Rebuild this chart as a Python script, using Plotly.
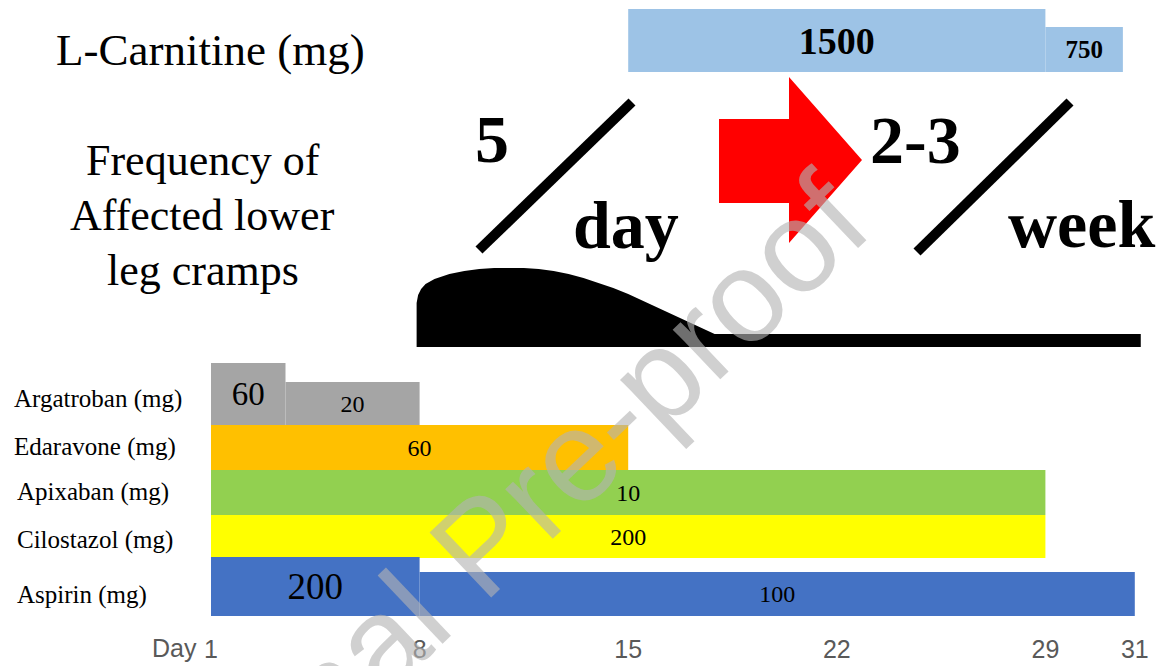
import plotly.graph_objects as go

# ---------------- data ----------------
drug_names = ["L-Carnitine (mg)", "Argatroban (mg)", "Edaravone (mg)",
              "Apixaban (mg)", "Cilostazol (mg)", "Aspirin (mg)"]

lcarnitine_start = [15, 29]
lcarnitine_end = [29, 31.6]
lcarnitine_dose = [1500, 750]

argatroban_start = [1, 3.5]
argatroban_end = [3.5, 8]
argatroban_dose = [60, 20]

edaravone_start = [1]
edaravone_end = [15]
edaravone_dose = [60]

apixaban_start = [1]
apixaban_end = [29]
apixaban_dose = [10]

cilostazol_start = [1]
cilostazol_end = [29]
cilostazol_dose = [200]

aspirin_start = [1, 8]
aspirin_end = [8, 32]
aspirin_dose = [200, 100]

# schematic frequency of leg cramps (day, relative level)
cramp_day = [7.9, 7.9, 7.95, 8.05, 8.2, 8.5, 9.0, 9.5, 10.0, 10.5, 11.0, 11.5, 12.0,
             12.5, 13.0, 13.5, 14.0, 14.5, 15.0, 15.5, 16.0, 16.5, 17.0, 17.5, 17.9,
             32.2, 32.2]
cramp_level = [0, 44, 52, 58, 63, 68, 73, 76, 78, 79, 79, 79, 78,
               76, 73, 69, 64, 59, 53, 46, 39, 32, 25, 18, 13,
               13, 0]

tick_days = [1, 8, 15, 22, 29, 32]
tick_labels = ["1", "8", "15", "22", "29", "31"]

# ---------------- layout / style ----------------
W, H = 1163, 666
MB = 34
PH = H - MB           # plot height in px; y axis uses px units (top = 0)
SERIF = "Liberation Serif"


def px(xp):
    return xp / W


rows = [
    # start, end, dose, colour, bottom y, segment heights, font sizes, bold
    (lcarnitine_start, lcarnitine_end, lcarnitine_dose, "#9DC3E6", 72, [63, 45], [38, 25], True),
    (argatroban_start, argatroban_end, argatroban_dose, "#A5A5A5", 425, [62, 43], [33, 24], False),
    (edaravone_start, edaravone_end, edaravone_dose, "#FFC000", 470, [45], [24], False),
    (apixaban_start, apixaban_end, apixaban_dose, "#92D050", 515, [45], [24], False),
    (cilostazol_start, cilostazol_end, cilostazol_dose, "#FFFF00", 558, [43], [24], False),
    (aspirin_start, aspirin_end, aspirin_dose, "#4472C4", 616, [59, 44], [37, 24], False),
]

fig = go.Figure()

for start, end, dose, color, bottom, heights, sizes, bold in rows:
    labels = [("<b>%d</b>" % d) if bold else str(d) for d in dose]
    fig.add_trace(go.Bar(
        orientation="h",
        base=start,
        x=[e - s for s, e in zip(start, end)],
        y=[bottom - h / 2 for h in heights],
        width=heights,
        marker=dict(color=color, line=dict(width=0)),
        text=labels,
        textposition="inside",
        insidetextanchor="middle",
        textangle=0,
        textfont=dict(family=SERIF, size=sizes, color="black"),
        hoverinfo="skip",
        showlegend=False,
    ))

# frequency curve (black silhouette)
CURVE_BASE = 347
fig.add_trace(go.Scatter(
    x=cramp_day,
    y=[CURVE_BASE - v for v in cramp_level],
    mode="lines",
    line=dict(color="black", width=0),
    fill="toself",
    fillcolor="black",
    hoverinfo="skip",
    showlegend=False,
))

annotations = []

# row labels
label_y = [None, 398.5, 446.5, 491.5, 539.5, 594.5]
label_x = [None, 12, 12, 15, 15, 15]
for name, xx, yy in zip(drug_names[1:], label_x[1:], label_y[1:]):
    annotations.append(dict(text=name, x=px(xx), xref="paper", y=yy, yref="y",
                            xanchor="left", yanchor="middle", showarrow=False,
                            font=dict(family=SERIF, size=25, color="black")))

# big left texts
annotations.append(dict(text=drug_names[0], x=px(210), xref="paper", y=50, yref="y",
                        xanchor="center", yanchor="middle", showarrow=False,
                        font=dict(family=SERIF, size=45, color="black")))
for line, yy in zip(["Frequency of", "Affected lower", "leg cramps"], [160, 215, 270]):
    annotations.append(dict(text=line, x=px(202.5), xref="paper", y=yy, yref="y",
                            xanchor="center", yanchor="middle", showarrow=False,
                            font=dict(family=SERIF, size=44, color="black")))

# frequency numbers
for t, xx, yy in [("5", 492, 139), ("day", 625.5, 225), ("2-3", 915, 140), ("week", 1081.5, 224)]:
    annotations.append(dict(text="<b>%s</b>" % t, x=px(xx), xref="paper", y=yy, yref="y",
                            xanchor="center", yanchor="middle", showarrow=False,
                            font=dict(family=SERIF, size=68, color="black")))

# "Day" prefix for first tick
annotations.append(dict(text="Day", x=px(199), xref="paper", y=-16 / PH, yref="paper",
                        xanchor="right", yanchor="middle", showarrow=False,
                        font=dict(family="Liberation Sans", size=25, color="#595959")))

# watermark
annotations.append(dict(text="Journal Pre-proof", x=px(481), xref="paper", y=545, yref="y",
                        xanchor="center", yanchor="middle", showarrow=False, textangle=-43.6,
                        font=dict(family="Liberation Sans", size=130, color="rgba(179,179,179,0.62)")))

shapes = []
for (x0, y0, x1, y1) in [(479, 250, 632, 102), (917, 252, 1070, 102)]:
    shapes.append(dict(type="line", xref="paper", yref="y", x0=px(x0), y0=y0, x1=px(x1), y1=y1,
                       line=dict(color="black", width=10)))

arrow = [(719, 119), (789, 119), (789, 77), (862, 160), (789, 243), (789, 203), (719, 203)]
path = "M " + " L ".join("%f,%f" % (px(a), b) for a, b in arrow) + " Z"
shapes.append(dict(type="path", xref="paper", yref="y", path=path,
                   fillcolor="#FF0000", line=dict(width=0)))

x_left = 1 - 211 / 29.8
x_right = 1 + (W - 211) / 29.8

fig.update_layout(
    width=W, height=H,
    margin=dict(l=0, r=0, t=0, b=MB),
    paper_bgcolor="white", plot_bgcolor="white",
    barmode="overlay",
    showlegend=False,
    hovermode=False,
    annotations=annotations,
    shapes=shapes,
    xaxis=dict(range=[x_left, x_right], tickvals=tick_days, ticktext=tick_labels,
               showgrid=False, zeroline=False, showline=False, ticks="",
               tickfont=dict(family="Liberation Sans", size=25, color="#595959"),
               fixedrange=True),
    yaxis=dict(range=[PH, 0], visible=False, fixedrange=True),
)

fig.write_html("out.html", config={"displayModeBar": False},
               post_script="document.body.style.margin='0';document.body.style.padding='0';"
                           "document.body.style.overflow='hidden';")
